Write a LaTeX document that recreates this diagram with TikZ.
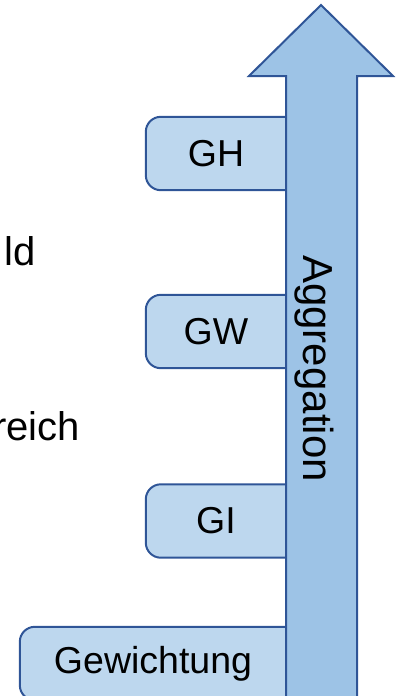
\documentclass[tikz,border=0pt]{standalone}
\usepackage{fontspec}
\setmainfont{Liberation Sans}
\usetikzlibrary{backgrounds}
\definecolor{boxfill}{HTML}{BDD7EE}
\definecolor{arrowfill}{HTML}{9DC3E6}
\definecolor{edge}{HTML}{2F5597}

\begin{document}
\begin{tikzpicture}[x=1pt, y=-1pt,
			level/.style={
				font = \fontsize{37.5}{40}\selectfont,
				minimum width = 140pt,
				minimum height = 73pt,
				inner sep = 0pt},
			tab/.style={
				draw = edge,
				fill = boxfill,
				line width = 2pt,
				rounded corners = 15pt},
			side/.style={
				font = \fontsize{40}{44}\selectfont,
				inner sep = 0pt}]
			\useasboundingbox (0, 0) rectangle (397, 696);
			\clip (0, 0) rectangle (397, 696);
			% cut-off words on the left
			\node at (35.5, 265) [side, anchor = base east] (field) {ld};
			\node at (80, 440) [side, anchor = base east] (area) {reich};
			% levels
			\node at (216, 153.5) [level] (gh) {GH};
			\node at (216, 331.5) [level] (gw) {GW};
			\node at (216, 521) [level] (gi) {GI};
			\node at (153, 663.5) [level, minimum width = 266pt] (weight) {Gewichtung};
			\begin{scope}[on background layer]
				\foreach \n in {gh, gw, gi, weight}
					\draw[tab] ([xshift = 20pt]\n.north east) -- (\n.north west)
						-- (\n.south west) -- ([xshift = 20pt]\n.south east);
			\end{scope}
			% big arrow
			\draw[draw = edge, fill = arrowfill, line width = 2pt]
				(286, 705) -- (286, 76) -- (249, 76) -- (321, 5)
				-- (393, 76) -- (357, 76) -- (357, 705) -- cycle;
			\node at (314, 368.5) [side, rotate = -90, font = \fontsize{42}{46}\selectfont] (agg) {Aggregation};
			\end{tikzpicture}
\end{document}
